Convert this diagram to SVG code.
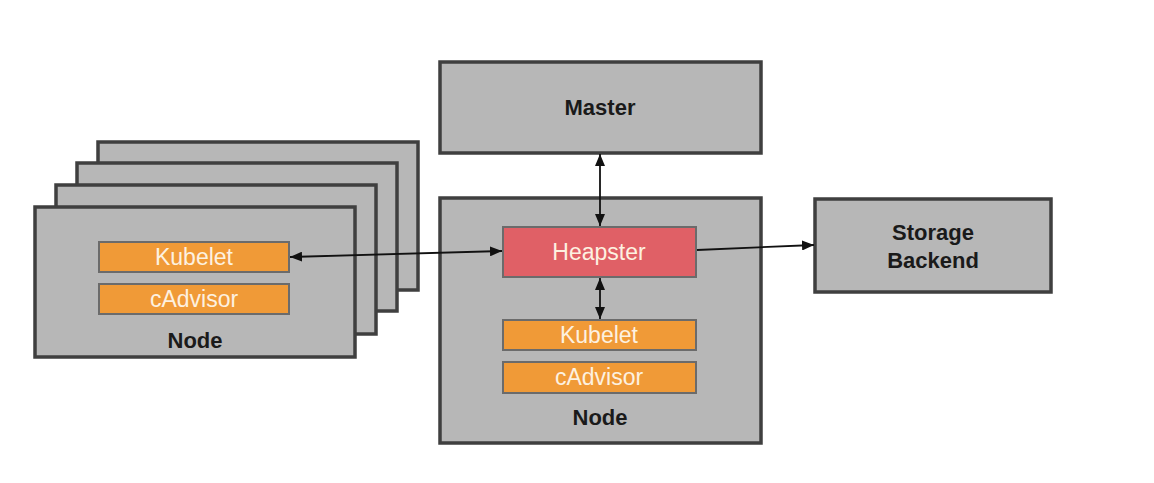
<svg xmlns="http://www.w3.org/2000/svg" width="1154" height="483" viewBox="0 0 1154 483">
<defs>
<style>
.box{fill:#b7b7b7;stroke:#3f3f3f;stroke-width:3.5}
.orange{fill:#f09a37;stroke:#6b6b6b;stroke-width:2}
.red{fill:#e06066;stroke:#6b6b6b;stroke-width:2}
.lbl{font-family:"Liberation Sans",Arial,sans-serif;font-size:22px;font-weight:bold;fill:#1a1a1a;text-anchor:middle}
.wl{font-family:"Liberation Sans",Arial,sans-serif;font-size:23px;fill:#fdf1e0;text-anchor:middle}
.conn{stroke:#111;stroke-width:1.8;fill:none}
</style>
<marker id="ah" viewBox="0 0 12 10" refX="12" refY="5" markerWidth="12" markerHeight="10" markerUnits="userSpaceOnUse" orient="auto-start-reverse">
<path d="M0,0 L12,5 L0,10 z" fill="#111"/>
</marker>
</defs>
<rect width="1154" height="483" fill="#ffffff"/>
<g id="node-stack-3"><rect class="box" x="98" y="142" width="320" height="148"/></g>
<g id="node-stack-2"><rect class="box" x="77" y="163" width="320" height="148"/></g>
<g id="node-stack-1"><rect class="box" x="56" y="185" width="320" height="149"/></g>
<g id="node-left">
<rect class="box" x="35" y="207" width="320" height="150"/>
<text class="lbl" x="195" y="348">Node</text>
</g>
<g id="kubelet-left"><rect class="orange" x="99" y="242" width="190" height="30"/><text class="wl" x="194" y="265">Kubelet</text></g>
<g id="cadvisor-left"><rect class="orange" x="99" y="284" width="190" height="30"/><text class="wl" x="194" y="307">cAdvisor</text></g>
<g id="master"><rect class="box" x="440" y="62" width="321" height="91"/><text class="lbl" x="600" y="115">Master</text></g>
<g id="node-center"><rect class="box" x="440" y="198" width="321" height="245"/><text class="lbl" x="600" y="425">Node</text></g>
<g id="heapster"><rect class="red" x="503" y="227" width="193" height="50"/><text class="wl" x="599" y="260">Heapster</text></g>
<g id="kubelet-center"><rect class="orange" x="503" y="320" width="193" height="30"/><text class="wl" x="599" y="343">Kubelet</text></g>
<g id="cadvisor-center"><rect class="orange" x="503" y="362" width="193" height="31"/><text class="wl" x="599" y="385">cAdvisor</text></g>
<g id="storage"><rect class="box" x="815" y="199" width="236" height="93"/><text class="lbl" x="933" y="240">Storage</text><text class="lbl" x="933" y="268">Backend</text></g>
<g id="connectors">
<line class="conn" x1="290" y1="257" x2="502" y2="251" marker-start="url(#ah)" marker-end="url(#ah)"/>
<line class="conn" x1="600" y1="154" x2="600" y2="226" marker-start="url(#ah)" marker-end="url(#ah)"/>
<line class="conn" x1="600" y1="278" x2="600" y2="319" marker-start="url(#ah)" marker-end="url(#ah)"/>
<line class="conn" x1="697" y1="250" x2="814" y2="245" marker-end="url(#ah)"/>
</g>
</svg>
